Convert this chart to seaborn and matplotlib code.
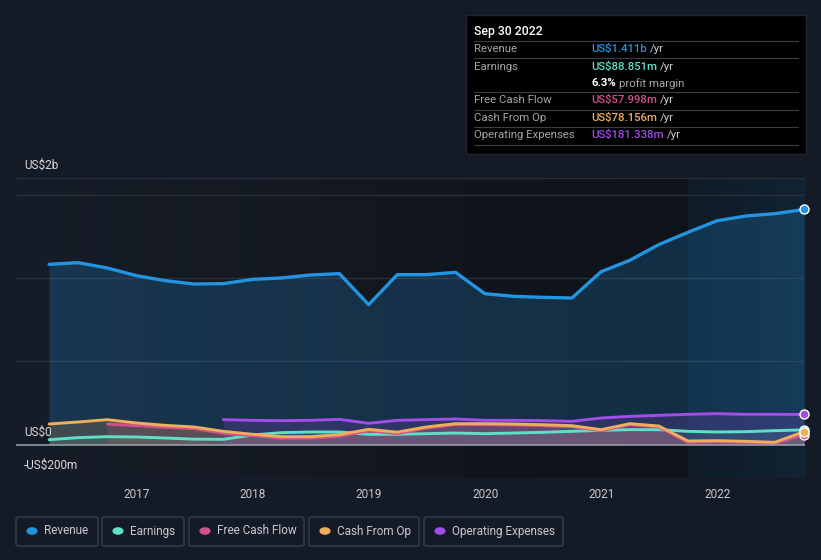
import numpy as np
import pandas as pd
import matplotlib
matplotlib.use("Agg")
import matplotlib.pyplot as plt
import matplotlib.dates as mdates
import matplotlib.transforms as mtrans
from matplotlib.patches import FancyBboxPatch, Rectangle
from matplotlib.colors import LinearSegmentedColormap
import seaborn as sns

# ---------------- data (US$ millions, trailing twelve months) ----------------
quarters = pd.period_range("2016Q1", "2022Q3", freq="Q").to_timestamp(how="start") + pd.offsets.QuarterEnd(0)

revenue = [1082, 1092, 1060, 1014, 984, 964, 966, 992, 1000, 1018, 1026, 840, 1020, 1020,
           1034, 906, 890, 884, 880, 1038, 1106, 1200, 1274, 1344, 1372, 1386, 1411]
earnings = [30, 42, 48, 46, 40, 33, 32, 58, 72, 76, 76, 62, 62, 66,
            70, 66, 70, 74, 80, 86, 90, 90, 80, 76, 78, 84, 88.851]
free_cash_flow = [np.nan, np.nan, 124, 114, 104, 96, 68, 54, 38, 38, 50, 84, 66, 100,
                  120, 120, 118, 114, 108, 84, 120, 106, 14, 18, 14, 8, 57.998]
cash_from_op = [124, 136, 150, 130, 116, 106, 80, 62, 48, 48, 60, 92, 75, 106,
                126, 126, 124, 120, 114, 90, 126, 112, 22, 24, 20, 14, 78.156]
operating_expenses = [np.nan] * 6 + [150, 146, 144, 146, 152, 128, 146, 150,
                                     154, 146, 146, 144, 140, 160, 170, 176, 182, 186, 182, 182, 181.338]

series_names = ["Revenue", "Earnings", "Free Cash Flow", "Cash From Op", "Operating Expenses"]
series_values = [revenue, earnings, free_cash_flow, cash_from_op, operating_expenses]
series_colors = ["#2394df", "#5ee0c6", "#d4508a", "#eeae5c", "#a24de8"]
year_ticks = ["2017", "2018", "2019", "2020", "2021", "2022"]
y_labels = ["US$2b", "US$0", "-US$200m"]

tooltip_date = "Sep 30 2022"
tooltip_rows = [("Revenue", "US$1.411b", series_colors[0]),
                ("Earnings", "US$88.851m", series_colors[1]),
                ("Free Cash Flow", "US$57.998m", series_colors[2]),
                ("Cash From Op", "US$78.156m", series_colors[3]),
                ("Operating Expenses", "US$181.338m", series_colors[4])]
profit_margin = "6.3%"

df = pd.DataFrame({"date": quarters})
for n, v in zip(series_names, series_values):
    df[n] = v
long = df.melt(id_vars="date", var_name="series", value_name="value").dropna()

# ---------------- figure ----------------
sns.set_theme(style="dark")
plt.rcParams["font.family"] = ["Roboto", "DejaVu Sans"]
BG = "#151b26"
W, H = 821, 560
fig = plt.figure(figsize=(W / 100, H / 100), dpi=100, facecolor=BG)

def fx(x):
    return x / W

def fy(y):
    return 1 - y / H

ax = fig.add_axes([fx(16), fy(478), fx(805) - fx(16), fy(178) - fy(478)])
ax.set_facecolor(BG)
for s in ax.spines.values():
    s.set_visible(False)

x_left = pd.Timestamp("2015-12-18")
x_right = pd.Timestamp("2022-10-03")
x_hl = pd.Timestamp("2021-09-30")
ax.set_xlim(x_left, x_right)
ax.set_ylim(-200, 1600)

# background gradient + last-year highlight
hl_frac = (mdates.date2num(x_hl) - mdates.date2num(x_left)) / (mdates.date2num(x_right) - mdates.date2num(x_left))
grad = LinearSegmentedColormap.from_list("g", ["#171d28", "#0e1219"])
ax.imshow(np.linspace(0, 1, 256).reshape(1, -1), cmap=grad, aspect="auto",
          extent=[0, hl_frac, 0, 1], transform=ax.transAxes, zorder=0)
grad2 = LinearSegmentedColormap.from_list("g2", ["#0f1b27", "#122334"])
ax.imshow(np.linspace(0, 1, 256).reshape(1, -1), cmap=grad2, aspect="auto",
          extent=[hl_frac, 1, 0, 1], transform=ax.transAxes, zorder=0)

# gridlines
for yv in [1600, 1500, 1000, 500, -200]:
    ax.axhline(yv, color="#2a303a", lw=1.0, zorder=1)
ax.axhline(0, color="#9ea3aa", lw=1.1, zorder=6)

# area fills
fill_alpha = [0.22, 0.12, 0.18, 0.18, 0.18]
for n, c, a in zip(series_names, series_colors, fill_alpha):
    sub = df[["date", n]].dropna()
    ax.fill_between(sub["date"], sub[n], 0, color=c, alpha=a, lw=0, zorder=2)

# lines via seaborn
order_z = {"Revenue": 5, "Operating Expenses": 4, "Earnings": 3, "Cash From Op": 3.5, "Free Cash Flow": 3.4}
widths = {"Revenue": 2.4, "Earnings": 2.1, "Free Cash Flow": 2.1, "Cash From Op": 2.1, "Operating Expenses": 2.1}
for n, c in zip(series_names, series_colors):
    sub = long[long["series"] == n]
    sns.lineplot(data=sub, x="date", y="value", color=c, lw=widths[n], ax=ax,
                 zorder=order_z[n], legend=False, estimator=None)
    last = sub.iloc[-1]
    ax.scatter([last["date"]], [last["value"]], s=42, color=c, edgecolor="white",
               linewidth=1.0, zorder=8, clip_on=False)

# axes ticks/labels
ax.set_xlabel("")
ax.set_ylabel("")
ax.set_yticks([])
ax.set_xticks([pd.Timestamp(f"{y}-01-01") for y in year_ticks])
ax.set_xticklabels(year_ticks, color="#c5c9cf", fontsize=8.5)
ax.tick_params(axis="x", length=0, pad=7)
ax.grid(False)

ytr = mtrans.blended_transform_factory(ax.transAxes, ax.transData)
for lab, yv in zip(y_labels, [1674, 72, -126]):
    ax.text(8 / 789, yv, lab, transform=ytr, color="#d6d9dd", fontsize=8.5,
            va="center", ha="left", clip_on=False, zorder=9)

# ---------------- tooltip ----------------
fig.patches.append(Rectangle((fx(466), fy(154)), fx(806) - fx(466), fy(15) - fy(154),
                             transform=fig.transFigure, facecolor="#000000",
                             edgecolor="#20252e", lw=1, zorder=10))
fig.text(fx(474), fy(31), tooltip_date, color="white", fontsize=8.8,
         fontweight="medium", va="center", ha="left", zorder=11)
for yy in [41, 58.3, 92.3, 109.7, 127.3, 145]:
    fig.lines.append(plt.Line2D([fx(474), fx(798)], [fy(yy), fy(yy)],
                                transform=fig.transFigure, color="#3a3f47", lw=0.8, zorder=11))

renderer = fig.canvas.get_renderer()
row_y = [49.3, 66.7, 100, 118, 135]
for (lab, val, col), yy in zip(tooltip_rows, row_y):
    fig.text(fx(474), fy(yy), lab, color="#a3a6ab", fontsize=8.2, va="center", ha="left", zorder=11)
    t = fig.text(fx(591), fy(yy), val, color=col, fontsize=8.2, fontweight="medium",
                 va="center", ha="left", zorder=11)
    bb = t.get_window_extent(renderer=renderer)
    fig.text(bb.x1 / fig.dpi / fig.get_figwidth() + fx(3), fy(yy), "/yr", color="#cfd2d6",
             fontsize=8.2, va="center", ha="left", zorder=11)
t = fig.text(fx(591), fy(83.3), profit_margin, color="white", fontsize=8.2, fontweight="bold",
             va="center", ha="left", zorder=11)
bb = t.get_window_extent(renderer=renderer)
fig.text(bb.x1 / fig.dpi / fig.get_figwidth() + fx(3), fy(83.3), "profit margin", color="#a3a6ab",
         fontsize=8.2, va="center", ha="left", zorder=11)

# ---------------- legend ----------------
box_lefts = [16, 102, 189, 309, 424]
box_rights = [98, 184, 304, 419, 563]
for n, c, l, r in zip(series_names, series_colors, box_lefts, box_rights):
    fig.patches.append(FancyBboxPatch((fx(l), fy(546)), fx(r) - fx(l), fy(517) - fy(546),
                                      boxstyle="round,pad=0,rounding_size=0.003",
                                      transform=fig.transFigure, facecolor="none",
                                      edgecolor="#3a3f48", lw=1.0))
    fig.patches.append(plt.Circle((fx(l + 16), fy(531)), 0.0068, transform=fig.transFigure,
                                  facecolor=c, edgecolor="none"))
    fig.text(fx(l + 28), fy(531), n, color="#c5c9cf", fontsize=8.5, va="center", ha="left")

fig.savefig("out.png", dpi=100, facecolor=BG)
